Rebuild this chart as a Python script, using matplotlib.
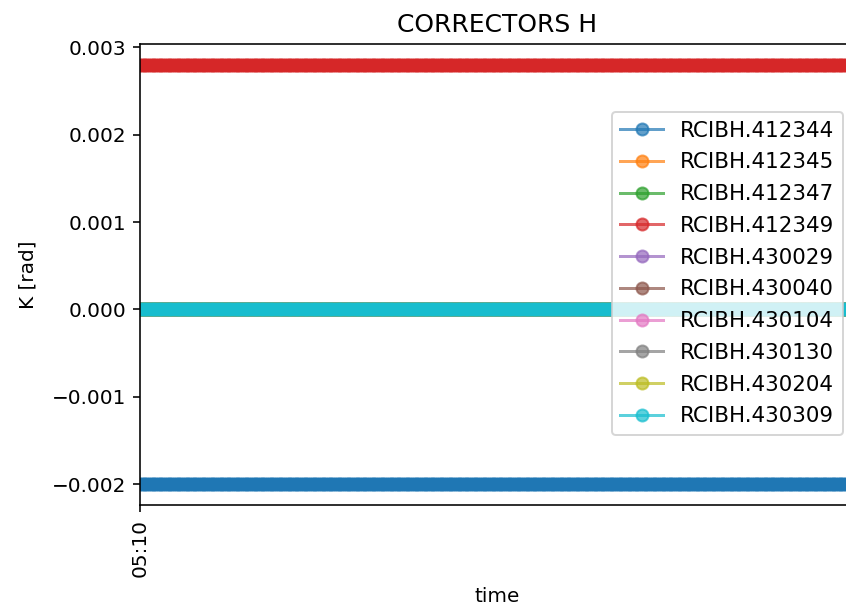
import matplotlib
matplotlib.use("Agg")
import matplotlib.pyplot as plt
import matplotlib.dates as mdates
import pandas as pd

# Horizontal corrector names and their kick strength (rad)
correctors = ["RCIBH.412344", "RCIBH.412345", "RCIBH.412347", "RCIBH.412349",
              "RCIBH.430029", "RCIBH.430040", "RCIBH.430104", "RCIBH.430130",
              "RCIBH.430204", "RCIBH.430309"]
kicks = [-0.002, 0.0, 0.0, 0.0028, 0.0, 0.0, 0.0, 0.0, 0.0, 0.0]

# Logging times of the corrector settings
start_time = "2018-05-10 05:10:00"
n_samples = 400
sample_period = "2s"
times = pd.date_range(start_time, periods=n_samples, freq=sample_period)

fig = plt.figure(figsize=(846 / 144, 612 / 144), dpi=144)
ax = fig.add_axes([140 / 846, 1 - 505 / 612, 714 / 846, 461 / 612])

for name, k in zip(correctors, kicks):
    ax.plot(times, [k] * len(times), marker="o", alpha=0.7, label=name)

ax.set_xlim(times[0], times[-1])
ax.set_xticks([times[0]])
ax.xaxis.set_major_formatter(mdates.DateFormatter("%H:%M"))
plt.setp(ax.get_xticklabels(), rotation=90)

ax.set_title("CORRECTORS H", fontsize=12.5)
ax.set_xlabel("time", labelpad=5)
ax.set_ylabel("K [rad]", labelpad=7)

ax.legend(loc="upper right", bbox_to_anchor=(843 / 846, 1 - 112 / 612),
          bbox_transform=fig.transFigure, borderaxespad=0,
          fontsize=10.7, labelspacing=0.55)

fig.savefig("out.png", dpi=144)
